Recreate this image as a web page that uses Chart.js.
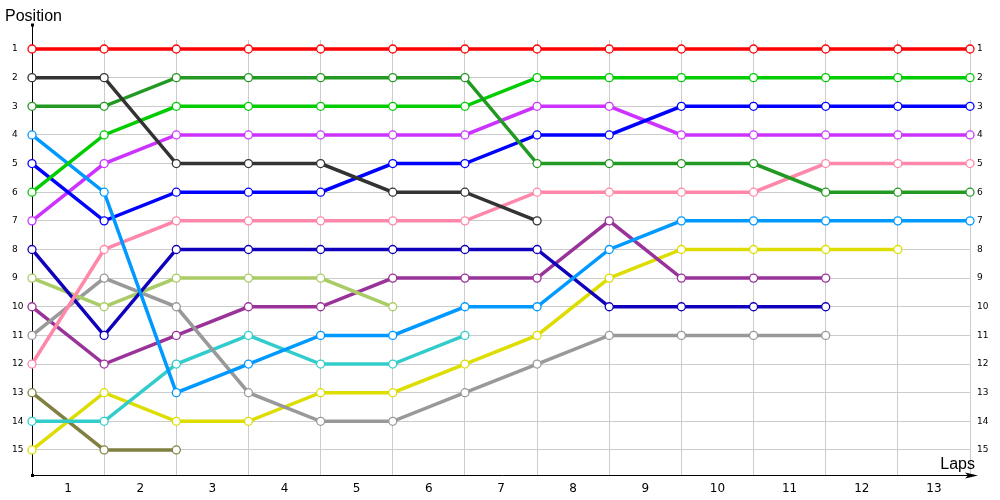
<!DOCTYPE html>
<html>
<head>
<meta charset="utf-8">
<title>Lap chart</title>
<script src="https://cdn.jsdelivr.net/npm/chart.js@4/dist/chart.umd.min.js"></script>
<style>
    html, body { margin: 0; padding: 0; background: #fff; }
    #chartBox { width: 1000px; height: 500px; }
</style>
</head>
<body>
<div id="chartBox"><canvas id="lapChart"></canvas></div>
<script>
// lap labels sit between the grid lines, positions on the grid lines
const lapLabels = ['1', '2', '3', '4', '5', '6', '7', '8', '9', '10', '11', '12', '13'];
const positionTicks = [1, 2, 3, 4, 5, 6, 7, 8, 9, 10, 11, 12, 13, 14, 15];

// position of each car at every grid line (start + 13 laps)
const redCar        = [1, 1, 1, 1, 1, 1, 1, 1, 1, 1, 1, 1, 1, 1];
const darkGreyCar   = [2, 2, 5, 5, 5, 6, 6, 7];
const forestCar     = [3, 3, 2, 2, 2, 2, 2, 5, 5, 5, 5, 6, 6, 6];
const limeCar       = [6, 4, 3, 3, 3, 3, 3, 2, 2, 2, 2, 2, 2, 2];
const skyCar        = [4, 6, 13, 12, 11, 11, 10, 10, 8, 7, 7, 7, 7, 7];
const blueCar       = [5, 7, 6, 6, 6, 5, 5, 4, 4, 3, 3, 3, 3, 3];
const violetCar     = [7, 5, 4, 4, 4, 4, 4, 3, 3, 4, 4, 4, 4, 4];
const pinkCar       = [12, 8, 7, 7, 7, 7, 7, 6, 6, 6, 6, 5, 5, 5];
const navyCar       = [8, 11, 8, 8, 8, 8, 8, 8, 10, 10, 10, 10];
const sageCar       = [9, 10, 9, 9, 9, 10];
const greyCar       = [11, 9, 10, 13, 14, 14, 13, 12, 11, 11, 11, 11];
const plumCar       = [10, 12, 11, 10, 10, 9, 9, 9, 7, 9, 9, 9];
const tealCar       = [14, 14, 12, 11, 12, 12, 11];
const yellowCar     = [15, 13, 14, 14, 13, 13, 12, 11, 9, 8, 8, 8, 8];
const oliveCar      = [13, 15, 15];

const carSeries = [
    { name: 'Red', data: redCar, color: '#ff0000' },
    { name: 'Dark grey', data: darkGreyCar, color: '#333333' },
    { name: 'Forest', data: forestCar, color: '#229922' },
    { name: 'Lime', data: limeCar, color: '#00cc00' },
    { name: 'Sky', data: skyCar, color: '#0099ff' },
    { name: 'Blue', data: blueCar, color: '#0000ff' },
    { name: 'Violet', data: violetCar, color: '#cc33ff' },
    { name: 'Pink', data: pinkCar, color: '#ff88aa' },
    { name: 'Navy', data: navyCar, color: '#1100bb' },
    { name: 'Sage', data: sageCar, color: '#aacc66' },
    { name: 'Grey', data: greyCar, color: '#999999' },
    { name: 'Plum', data: plumCar, color: '#993399' },
    { name: 'Teal', data: tealCar, color: '#33cccc' },
    { name: 'Yellow', data: yellowCar, color: '#dddd00' },
    { name: 'Olive', data: oliveCar, color: '#808040' }
];

const Y_MIN = 0.686;
const Y_MAX = 15.874;

// black axes with a dot at the origin/top and an arrow on the lap axis
const axisPlugin = {
    id: 'lapAxes',
    beforeDatasetsDraw(chart) {
        const ctx = chart.ctx;
        const area = chart.chartArea;
        ctx.save();
        ctx.strokeStyle = '#000';
        ctx.fillStyle = '#000';
        ctx.lineWidth = 1;
        ctx.beginPath();
        ctx.moveTo(area.left + 0.5, 25);
        ctx.lineTo(area.left + 0.5, area.bottom + 0.5);
        ctx.lineTo(area.right + 2, area.bottom + 0.5);
        ctx.stroke();

        ctx.beginPath();
        ctx.moveTo(area.right - 5, area.bottom - 2.5);
        ctx.lineTo(area.right + 8, area.bottom + 0.5);
        ctx.lineTo(area.right - 5, area.bottom + 3.5);
        ctx.lineTo(area.right - 2, area.bottom + 0.5);
        ctx.closePath();
        ctx.fill();

        ctx.fillRect(area.left - 1, 23.5, 3, 3);
        ctx.fillRect(area.left - 1, area.bottom - 1, 3, 3);
        ctx.restore();
    },
    afterDraw(chart) {
        const ctx = chart.ctx;
        ctx.save();
        ctx.fillStyle = '#000';
        ctx.font = '16px "Liberation Sans", Arial, sans-serif';
        ctx.textBaseline = 'alphabetic';
        ctx.textAlign = 'left';
        ctx.fillText('Position', 5, 21);
        ctx.textAlign = 'right';
        ctx.fillText('Laps', 975, 469);
        ctx.restore();
    }
};

function buildDatasets() {
    return carSeries.map(car => ({
        label: car.name,
        data: car.data.map((pos, i) => ({ x: i, y: pos })),
        borderColor: car.color,
        backgroundColor: '#ffffff',
        pointBorderColor: car.color,
        pointBackgroundColor: '#ffffff',
        borderWidth: 3.5,
        pointRadius: 4,
        pointBorderWidth: 1.3,
        pointHoverRadius: 4,
        tension: 0,
        clip: false
    }));
}

function positionAxis(side) {
    return {
        type: 'linear',
        position: side,
        reverse: true,
        min: Y_MIN,
        max: Y_MAX,
        afterBuildTicks: scale => {
            scale.ticks = positionTicks.map(v => ({ value: v }));
        },
        afterFit: scale => {
            scale.width = side === 'left' ? 20 : 30;
        },
        border: { display: false },
        grid: {
            display: side === 'left',
            color: '#cccccc',
            lineWidth: 1,
            drawTicks: false
        },
        ticks: {
            color: '#000',
            font: { family: '"DejaVu Sans", sans-serif', size: 9 },
            padding: 7,
            crossAlign: side === 'left' ? 'far' : 'near',
            autoSkip: false,
            callback: v => String(v)
        }
    };
}

function renderLapChart() {
    const ctx = document.getElementById('lapChart').getContext('2d');
    new Chart(ctx, {
        type: 'line',
        data: { datasets: buildDatasets() },
        options: {
            responsive: true,
            maintainAspectRatio: false,
            animation: false,
            events: [],
            layout: { padding: { left: 12, right: 0, top: 40, bottom: 0 } },
            plugins: {
                legend: { display: false },
                tooltip: { enabled: false },
                title: { display: false }
            },
            scales: {
                x: {
                    type: 'linear',
                    min: 0,
                    max: lapLabels.length,
                    afterBuildTicks: scale => {
                        scale.ticks = lapLabels.map((l, i) => ({ value: i + 0.5 }));
                    },
                    afterFit: scale => {
                        scale.height = 25;
                    },
                    border: { display: false },
                    grid: {
                        offset: true,
                        color: '#cccccc',
                        lineWidth: 1,
                        drawTicks: false
                    },
                    ticks: {
                        color: '#000',
                        font: { family: '"DejaVu Sans", sans-serif', size: 12 },
                        padding: 7,
                        autoSkip: false,
                        maxRotation: 0,
                        callback: (v, i) => lapLabels[i]
                    }
                },
                y: positionAxis('left'),
                yRight: positionAxis('right')
            }
        },
        plugins: [axisPlugin]
    });
}

document.addEventListener('DOMContentLoaded', () => {
    renderLapChart();
});
</script>
</body>
</html>
